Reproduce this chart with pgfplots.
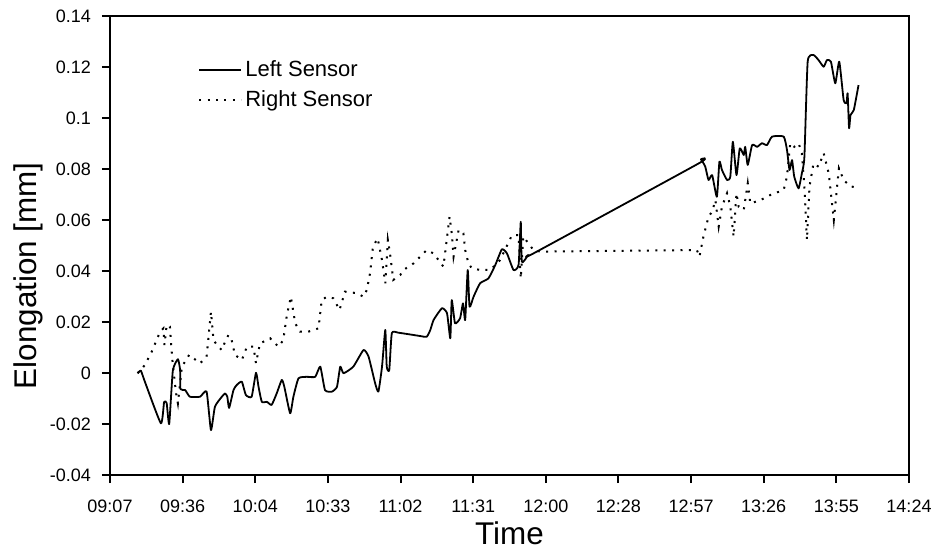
\documentclass[border=0pt]{standalone}
\usepackage{pgfplots}
\pgfplotsset{compat=1.18}
\usepackage{fontspec}
\setmainfont{Liberation Sans}

% Time is stored as a fraction of the day (0.38 = 09:07, 0.60 = 14:24)
\pgfplotstableread{
t       e
0.3876 -0.0001
0.3885  0.0009
0.3896 -0.0034
0.3940 -0.0197
0.3949 -0.0114
0.3956 -0.0118
0.3963 -0.0200
0.3973  0.0009
0.3987  0.0054
0.3993  0.0012
0.3994 -0.0063
0.4007 -0.0067
0.4020 -0.0093
0.4048 -0.0093
0.4066 -0.0073
0.4078 -0.0224
0.4089 -0.0132
0.4108 -0.0093
0.4117 -0.0080
0.4123 -0.0093
0.4128 -0.0137
0.4140 -0.0067
0.4149 -0.0047
0.4163 -0.0034
0.4174 -0.0086
0.4190 -0.0093
0.4202  0.0001
0.4209 -0.0054
0.4218 -0.0113
0.4232 -0.0113
0.4245 -0.0125
0.4259 -0.0080
0.4273 -0.0027
0.4280 -0.0054
0.4296 -0.0158
0.4305 -0.0093
0.4319 -0.0021
0.4342 -0.0015
0.4365 -0.0015
0.4379  0.0025
0.4392 -0.0067
0.4411 -0.0073
0.4425 -0.0054
0.4434  0.0025
0.4443 -0.0001
0.4470  0.0025
0.4498  0.0090
0.4512  0.0064
0.4530 -0.0040
0.4539 -0.0073
0.4549  0.0025
0.4558  0.0169
0.4562  0.0025
0.4569  0.0012
0.4576  0.0156
0.4594  0.0158
0.4654  0.0145
0.4672  0.0142
0.4682  0.0169
0.4691  0.0208
0.4714  0.0254
0.4728  0.0234
0.4737  0.0136
0.4741  0.0286
0.4750  0.0195
0.4764  0.0215
0.4772  0.0273
0.4778  0.0208
0.4785  0.0404
0.4790  0.0260
0.4801  0.0299
0.4819  0.0352
0.4842  0.0371
0.4861  0.0424
0.4879  0.0485
0.4893  0.0469
0.4911  0.0404
0.4925  0.0424
0.4931  0.0593
0.4934  0.0436
0.4952  0.0463
0.4966  0.0469
0.5421  0.0822
0.5427  0.0838
0.5439  0.0809
0.5448  0.0757
0.5458  0.0776
0.5471  0.0691
0.5478  0.0829
0.5485  0.0796
0.5499  0.0757
0.5508  0.0770
0.5515  0.0907
0.5525  0.0776
0.5534  0.0881
0.5545  0.0855
0.5549  0.0887
0.5556  0.0816
0.5568  0.0894
0.5582  0.0887
0.5595  0.0901
0.5609  0.0894
0.5623  0.0927
0.5655  0.0927
0.5664  0.0875
0.5671  0.0796
0.5678  0.0835
0.5684  0.0770
0.5696  0.0724
0.5705  0.0783
0.5712  0.0848
0.5721  0.1221
0.5737  0.1247
0.5751  0.1227
0.5765  0.1201
0.5774  0.1227
0.5785  0.1221
0.5797  0.1136
0.5808  0.1221
0.5820  0.1071
0.5828  0.1058
0.5831  0.1097
0.5835  0.0960
0.5839  0.1012
0.5848  0.1031
0.5861  0.1129
}\leftsensor

\pgfplotstableread{
t       e
0.3876 -0.0001
0.3896  0.0031
0.3915  0.0084
0.3938  0.0162
0.3947  0.0175
0.3950  0.0110
0.3956  0.0188
0.3965  0.0182
0.3968  0.0116
0.3973  0.0031
0.3982 -0.0080
0.3987 -0.0119
0.3998  0.0025
0.4018  0.0071
0.4048  0.0038
0.4066  0.0064
0.4078  0.0240
0.4085  0.0129
0.4098  0.0103
0.4108  0.0090
0.4117  0.0123
0.4126  0.0149
0.4135  0.0129
0.4144  0.0071
0.4163  0.0051
0.4177  0.0103
0.4195  0.0103
0.4202  0.0038
0.4213  0.0116
0.4241  0.0136
0.4264  0.0103
0.4277  0.0129
0.4287  0.0227
0.4298  0.0299
0.4310  0.0195
0.4323  0.0162
0.4346  0.0162
0.4374  0.0175
0.4383  0.0286
0.4397  0.0299
0.4415  0.0293
0.4432  0.0247
0.4447  0.0319
0.4480  0.0313
0.4498  0.0299
0.4507  0.0325
0.4516  0.0391
0.4524  0.0495
0.4537  0.0528
0.4549  0.0443
0.4558  0.0352
0.4565  0.0522
0.4571  0.0469
0.4580  0.0365
0.4599  0.0384
0.4608  0.0404
0.4636  0.0430
0.4645  0.0443
0.4672  0.0482
0.4691  0.0469
0.4718  0.0417
0.4735  0.0613
0.4741  0.0548
0.4746  0.0456
0.4760  0.0561
0.4773  0.0548
0.4778  0.0482
0.4787  0.0430
0.4796  0.0411
0.4819  0.0404
0.4847  0.0404
0.4874  0.0443
0.4907  0.0541
0.4925  0.0541
0.4931  0.0371
0.4938  0.0535
0.4966  0.0482
0.4985  0.0476
0.5416  0.0482
0.5423  0.0456
0.5434  0.0535
0.5448  0.0613
0.5458  0.0633
0.5467  0.0678
0.5476  0.0574
0.5485  0.0652
0.5499  0.0705
0.5508  0.0652
0.5517  0.0535
0.5525  0.0705
0.5531  0.0652
0.5545  0.0639
0.5556  0.0744
0.5563  0.0665
0.5591  0.0678
0.5618  0.0698
0.5655  0.0718
0.5664  0.0770
0.5673  0.0901
0.5684  0.0887
0.5696  0.0901
0.5705  0.0862
0.5712  0.0731
0.5719  0.0522
0.5726  0.0731
0.5737  0.0822
0.5751  0.0809
0.5765  0.0862
0.5779  0.0783
0.5793  0.0600
0.5807  0.0803
0.5820  0.0757
0.5839  0.0731
0.5857  0.0729
}\rightsensor

\begin{document}
\begin{tikzpicture}
\begin{axis}[
  scale only axis,
  width=399.5bp, height=229.5bp,
  xmin=0.38, xmax=0.60,
  ymin=-0.04, ymax=0.14,
  clip mode=individual,
  xtick={0.38,0.40,0.42,0.44,0.46,0.48,0.50,0.52,0.54,0.56,0.58,0.60},
  xticklabels={09:07,09:36,10:04,10:33,11:02,11:31,12:00,12:28,12:57,13:26,13:55,14:24},
  ytick={-0.04,-0.02,0,0.02,0.04,0.06,0.08,0.10,0.12,0.14},
  yticklabels={-0.04,-0.02,0,0.02,0.04,0.06,0.08,0.1,0.12,0.14},
  xtick pos=bottom, ytick pos=left,
  tick align=outside,
  major tick length=4bp,
  every tick/.style={black, line width=1bp},
  axis line style={line width=1bp},
  tick label style={font=\fontsize{9bp}{10bp}\selectfont},
  /pgf/number format/assume math mode=true,
  xticklabel style={yshift=-5bp},
  yticklabel style={xshift=-2bp},
  legend style={draw=none, fill=none, at={(axis description cs:0.11,0.91)},
    anchor=north west, font=\fontsize{11bp}{13bp}\selectfont,
    row sep=2.5bp, inner sep=0pt, nodes={inner sep=1.5bp}},
  legend cell align=left,
  legend image code/.code={\draw[#1] (0bp,0bp) -- (21bp,0bp);},
]
\addplot[black, line width=0.9bp, line join=round, smooth, tension=0.3]
  table[x=t, y=e] {\leftsensor};
\addlegendentry{Left Sensor}
\addplot[black, line width=1bp, dash pattern=on 1bp off 3.2bp]
  table[x=t, y=e] {\rightsensor};
\addlegendentry{Right Sensor}

\node[anchor=base, font=\fontsize{15.7bp}{18bp}\selectfont]
  at (axis description cs:0.5,-0.1525) {Time};
\node[rotate=90, anchor=base, font=\fontsize{15.7bp}{18bp}\selectfont]
  at (axis description cs:-0.0914,0.434) {Elongation [mm]};

\coordinate (SW) at (axis description cs:0,0);
\coordinate (NE) at (axis description cs:1,1);
\end{axis}
\pgfresetboundingbox
\path[use as bounding box] ([shift={(-55bp,-38bp)}]SW) rectangle ([shift={(13bp,8bp)}]NE);
\end{tikzpicture}
\end{document}
